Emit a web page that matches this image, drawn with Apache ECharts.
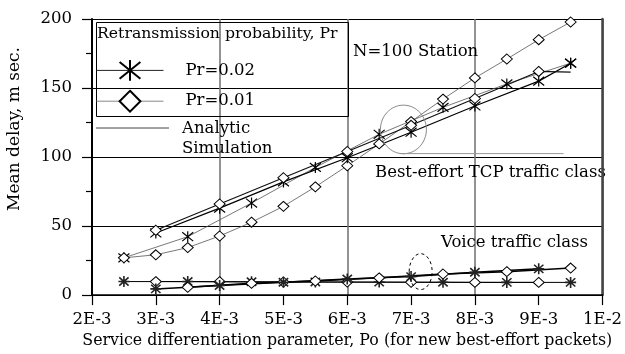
<!DOCTYPE html>
<html><head><meta charset="utf-8">
<script src="https://cdn.jsdelivr.net/npm/echarts@6/dist/echarts.min.js"></script>
<style>html,body{margin:0;padding:0;background:#fff}#c{width:625px;height:354px}</style>
</head><body><div id="c"></div>
<script>
// x values in units of 1E-3
const xTicks = [2, 3, 4, 5, 6, 7, 8, 9, 10];
const xTickLabels = ['2E-3', '3E-3', '4E-3', '5E-3', '6E-3', '7E-3', '8E-3', '9E-3', '1E-2'];
const yTicks = [0, 50, 100, 150, 200];

// Best-effort TCP traffic class
const beStarAnaX = [3, 4, 5, 6, 7, 8, 9, 9.5];
const beStarAnaY = [45, 63, 82, 99.5, 118, 137, 155, 168];
const beDiaAnaX = [3, 4, 5, 6, 7, 8, 9, 9.5];
const beDiaAnaY = [47, 66, 85, 104, 123, 142.4, 162, 161.5];
const beStarSimX = [2.5, 3.5, 4.5, 5.5, 6.5, 7.5, 8.5, 9.5];
const beStarSimY = [27, 42.3, 66.7, 92.5, 116.5, 136, 153, 168];
const beDiaSimX = [2.5, 3, 3.5, 4, 4.5, 5, 5.5, 6, 6.5, 7, 7.5, 8, 8.5, 9, 9.5];
const beDiaSimY = [27, 29.2, 34.4, 42.8, 52.8, 64.3, 78.4, 93.7, 109.5, 125.7, 142, 157.3, 171, 185, 197.8];

// Voice traffic class
const vStarRiseX = [3, 4, 5, 6, 7, 8, 9];
const vStarRiseY = [4.5, 7, 9.3, 11.7, 13.4, 16.5, 19];
const vDiaRiseX = [3.5, 4.5, 5.5, 6.5, 7.5, 8.5, 9.5];
const vDiaRiseY = [5.7, 8.5, 10.2, 12.5, 15.3, 17, 19.6];
const vStarFlatX = [2.5, 3.5, 4.5, 5.5, 6.5, 7.5, 8.5, 9.5];
const vStarFlatY = [9.8, 9.8, 9.6, 9.5, 9.4, 9.3, 9.2, 9.2];
const vDiaFlatX = [3, 4, 5, 6, 7, 8, 9];
const vDiaFlatY = [9.8, 9.7, 9.5, 9.4, 9.3, 9.2, 9.2];

const FONT = 'DejaVu Serif';
const FS = 16.5;
const STAR = 'path://M10,0L10,20M0,10L20,10M1.5,2.5L18.5,17.5M1.5,17.5L18.5,2.5';
const STAR6 = 'path://M10,0L10,20M0,2L20,18M0,18L20,2';

const zip = (xs, ys) => xs.map((x, i) => [x, ys[i]]);

function lineSeries(name, data, symbol, opts) {
  return Object.assign({
    name, type: 'line', data, symbol,
    symbolSize: symbol === 'diamond' ? [11, 10] : [11, 11],
    showSymbol: true, animation: false, silent: true,
    itemStyle: { color: '#fff', borderColor: '#000', borderWidth: 1 },
    lineStyle: { color: '#000', width: 1.2 },
    z: 3
  }, opts || {});
}

// analytic Pr=0.01 curve: last point drawn without a marker (as in the source figure)
const beDiaAnaData = zip(beDiaAnaX, beDiaAnaY).map((p, i, a) => i === a.length - 1 ? { value: p, symbol: 'none' } : p);

const chart = echarts.init(document.getElementById('c'), null, { renderer: 'canvas' });

const series = [
  lineSeries('Pr=0.02 simulation', zip(beStarSimX, beStarSimY), STAR6, { itemStyle: { color: '#fff', borderColor: '#000', borderWidth: 1.2 }, lineStyle: { color: '#555', width: 0.8 } }),
  lineSeries('Pr=0.01 simulation', zip(beDiaSimX, beDiaSimY), 'diamond', { lineStyle: { color: '#555', width: 0.8 } }),
  lineSeries('Pr=0.02', zip(beStarAnaX, beStarAnaY), STAR6, { itemStyle: { color: '#fff', borderColor: '#000', borderWidth: 1.2 }, lineStyle: { color: '#000', width: 1.2 } }),
  lineSeries('Pr=0.01', beDiaAnaData, 'diamond', { lineStyle: { color: '#111', width: 1.2 } }),
  lineSeries('Voice flat Pr=0.01', zip(vDiaFlatX, vDiaFlatY), 'diamond', { lineStyle: { color: '#000', width: 1 } }),
  lineSeries('Voice flat Pr=0.02', zip(vStarFlatX, vStarFlatY), STAR, { symbolSize: [11, 11], itemStyle: { color: '#555', borderColor: '#222', borderWidth: 1.6 }, lineStyle: { color: '#000', width: 1 } }),
  lineSeries('Voice rise Pr=0.01', zip(vDiaRiseX, vDiaRiseY), 'diamond', { lineStyle: { color: '#000', width: 1.5 } }),
  lineSeries('Voice rise Pr=0.02', zip(vStarRiseX, vStarRiseY), STAR, { symbolSize: [11, 11], itemStyle: { color: '#555', borderColor: '#222', borderWidth: 1.6 }, lineStyle: { color: '#000', width: 1.5 } })
];

const option = {
  animation: false,
  backgroundColor: '#fff',
  grid: { left: 92, right: 21, top: 19, bottom: 56, containLabel: false },
  xAxis: [{
    type: 'value', min: xTicks[0], max: xTicks[xTicks.length - 1], interval: 1,
    axisLine: { show: true, lineStyle: { color: '#000', width: 1.5 } },
    axisTick: { show: true, length: 10, inside: false, lineStyle: { color: '#000', width: 1.2 } },
    axisLabel: { margin: 16, fontFamily: FONT, fontSize: FS, color: '#000',
      formatter: v => xTickLabels[xTicks.indexOf(Math.round(v))] || '' },
    splitLine: { show: false },
    name: 'Service differentiation parameter, Po (for new best-effort packets)',
    nameLocation: 'middle', nameGap: 37,
    nameTextStyle: { fontFamily: FONT, fontSize: 15.8, color: '#000' }
  }, {
    type: 'value', min: xTicks[0], max: xTicks[xTicks.length - 1], interval: 2,
    axisLine: { show: false }, axisTick: { show: false }, axisLabel: { show: false },
    splitLine: { show: true, lineStyle: { color: '#777', width: 1.6 } }
  }],
  yAxis: [{
    type: 'value', min: yTicks[0], max: yTicks[yTicks.length - 1], interval: 50,
    axisLine: { show: true, lineStyle: { color: '#000', width: 2 } },
    axisTick: { show: true, length: 10, inside: false, lineStyle: { color: '#000', width: 1.2 } },
    minorTick: { show: true, splitNumber: 2, length: 6, lineStyle: { color: '#000', width: 1.2 } },
    axisLabel: { margin: 20, fontFamily: FONT, fontSize: FS, color: '#000' },
    splitLine: { show: true, lineStyle: { color: '#000', width: 1 } }
  }, {
    type: 'value', position: 'right', min: yTicks[0], max: yTicks[yTicks.length - 1], interval: 50,
    axisLine: { show: true, lineStyle: { color: '#444', width: 2.5 } },
    axisTick: { show: false }, axisLabel: { show: false }, splitLine: { show: false }
  }],
  legend: {
    left: 96, top: 59, orient: 'vertical', itemWidth: 67, itemHeight: 26, itemGap: 8, padding: 0,
    selectedMode: false,
    textStyle: { fontFamily: FONT, fontSize: FS, color: '#000', padding: [0, 0, 0, 17] },
    data: [
      { name: 'Pr=0.02', lineStyle: { color: '#222', width: 1 } },
      { name: 'Pr=0.01', lineStyle: { color: '#888', width: 1 } }
    ]
  },
  series
};
chart.setOption(option);

const px = (x, y) => chart.convertToPixel({ gridIndex: 0 }, [x, y]);
const e1c = px(6.88, 120), e1r = px(7.24, 137.6);
const g1a = px(6.86, 102.5), g1b = px(9.39, 102.5);
const e2c = px(7.15, 17), e2r = px(7.33, 30);
const txt = (text, x, y, size) => ({
  type: 'text', x, y, silent: true,
  style: { text, font: (size || FS) + 'px "' + FONT + '"', fill: '#000', textAlign: 'left', textVerticalAlign: 'middle' }
});

chart.setOption({
  graphic: [
    { type: 'rect', silent: true, shape: { x: 96.5, y: 22.5, width: 252, height: 94 }, style: { fill: 'none', stroke: '#000', lineWidth: 1 } },
    txt('Retransmission probability, Pr', 97, 34, 15.7),
    { type: 'line', silent: true, shape: { x1: 96, y1: 128, x2: 169, y2: 128 }, style: { stroke: '#444', lineWidth: 1 } },
    txt('Analytic', 182, 129),
    txt('Simulation', 182, 149),
    txt('N=100 Station', 353, 52),
    txt('Best-effort TCP traffic class', 375, 173),
    txt('Voice traffic class', 441, 243),
    { type: 'text', x: 15, y: 129, rotation: Math.PI / 2, silent: true,
      style: { text: 'Mean delay, m sec.', font: '17px "' + FONT + '"', fill: '#000', textAlign: 'center', textVerticalAlign: 'middle' } },
    { type: 'ellipse', silent: true, shape: { cx: e1c[0], cy: e1c[1], rx: e1r[0] - e1c[0], ry: e1c[1] - e1r[1] }, style: { fill: 'none', stroke: '#888', lineWidth: 1 }, z: 10 },
    { type: 'line', silent: true, shape: { x1: g1a[0], y1: g1a[1], x2: g1b[0], y2: g1b[1] }, style: { stroke: '#999', lineWidth: 1 }, z: 10 },
    { type: 'ellipse', silent: true, shape: { cx: e2c[0], cy: e2c[1], rx: e2r[0] - e2c[0], ry: e2c[1] - e2r[1] }, style: { fill: 'none', stroke: '#000', lineWidth: 1, lineDash: [3, 3] }, z: 10 }
  ]
});
</script></body></html>
